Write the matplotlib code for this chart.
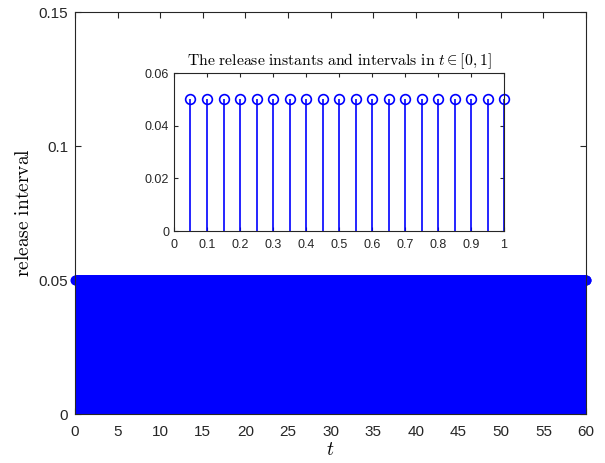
"""Release instants and intervals: stem chart with zoomed inset for t in [0, 1]."""

import numpy as np
import matplotlib
matplotlib.use("Agg")
import matplotlib.pyplot as plt

plt.rcParams["font.family"] = ["Liberation Sans", "DejaVu Sans"]
plt.rcParams["mathtext.fontset"] = "cm"

# release instants over the whole run (periodic release every 0.05 s)
release_period = 0.05
release_times = np.arange(1, 1201) * release_period
release_intervals = np.full(release_times.shape, release_period)

# first second, shown in the inset
inset_times = [0.05, 0.10, 0.15, 0.20, 0.25, 0.30, 0.35, 0.40, 0.45, 0.50,
               0.55, 0.60, 0.65, 0.70, 0.75, 0.80, 0.85, 0.90, 0.95, 1.00]
inset_intervals = [0.05] * len(inset_times)

main_xticks = list(range(0, 61, 5))
main_yticks = [0, 0.05, 0.1, 0.15]
main_yticklabels = ["0", "0.05", "0.1", "0.15"]
inset_xticks = [0, 0.1, 0.2, 0.3, 0.4, 0.5, 0.6, 0.7, 0.8, 0.9, 1]
inset_xticklabels = ["0", "0.1", "0.2", "0.3", "0.4", "0.5", "0.6", "0.7", "0.8", "0.9", "1"]
inset_yticks = [0, 0.02, 0.04, 0.06]
inset_yticklabels = ["0", "0.02", "0.04", "0.06"]

BLUE = "#0000ff"
AXCOL = "#262626"


def style_axes(ax, size):
    for s in ax.spines.values():
        s.set_color(AXCOL)
        s.set_linewidth(0.8)
    ax.tick_params(direction="in", top=True, right=True, colors=AXCOL,
                   labelsize=size, length=4, width=0.8)


fig = plt.figure(figsize=(6.05, 4.63), dpi=100)
ax = fig.add_axes([0.124, 0.1058, 0.8446, 0.8682])

ml, sl, bl = ax.stem(release_times, release_intervals, basefmt=" ")
plt.setp(sl, color=BLUE, linewidth=1.0)
plt.setp(ml, color=BLUE, marker="o", markersize=6, markerfacecolor="none",
         markeredgewidth=1.2, clip_on=False)
ax.set_xlim(0, 60)
ax.set_ylim(0, 0.15)
ax.set_xticks(main_xticks)
ax.set_yticks(main_yticks)
ax.set_yticklabels(main_yticklabels)
ax.set_xlabel(r"$t$", fontsize=14, labelpad=2)
ax.set_ylabel(r"$\mathrm{release\ interval}$", fontsize=14, labelpad=4)
style_axes(ax, 11)
ax.tick_params(axis="x", pad=8)
ax.tick_params(axis="y", pad=5)

inset = fig.add_axes([0.2876, 0.501, 0.5455, 0.341])
ml2, sl2, bl2 = inset.stem(inset_times, inset_intervals, basefmt=" ")
plt.setp(sl2, color=BLUE, linewidth=1.2)
plt.setp(ml2, color=BLUE, marker="o", markersize=7, markerfacecolor="none",
         markeredgewidth=1.2, clip_on=False)
inset.set_xlim(0, 1)
inset.set_ylim(0, 0.06)
inset.set_xticks(inset_xticks)
inset.set_xticklabels(inset_xticklabels)
inset.set_yticks(inset_yticks)
inset.set_yticklabels(inset_yticklabels)
inset.set_title(r"$\mathrm{The\ release\ instants\ and\ intervals\ in\ } t \in [0, 1]$",
                fontsize=11.3, pad=6)
style_axes(inset, 9)
inset.tick_params(length=3)
inset.tick_params(axis="x", pad=6)

fig.savefig("out.png", dpi=100)
